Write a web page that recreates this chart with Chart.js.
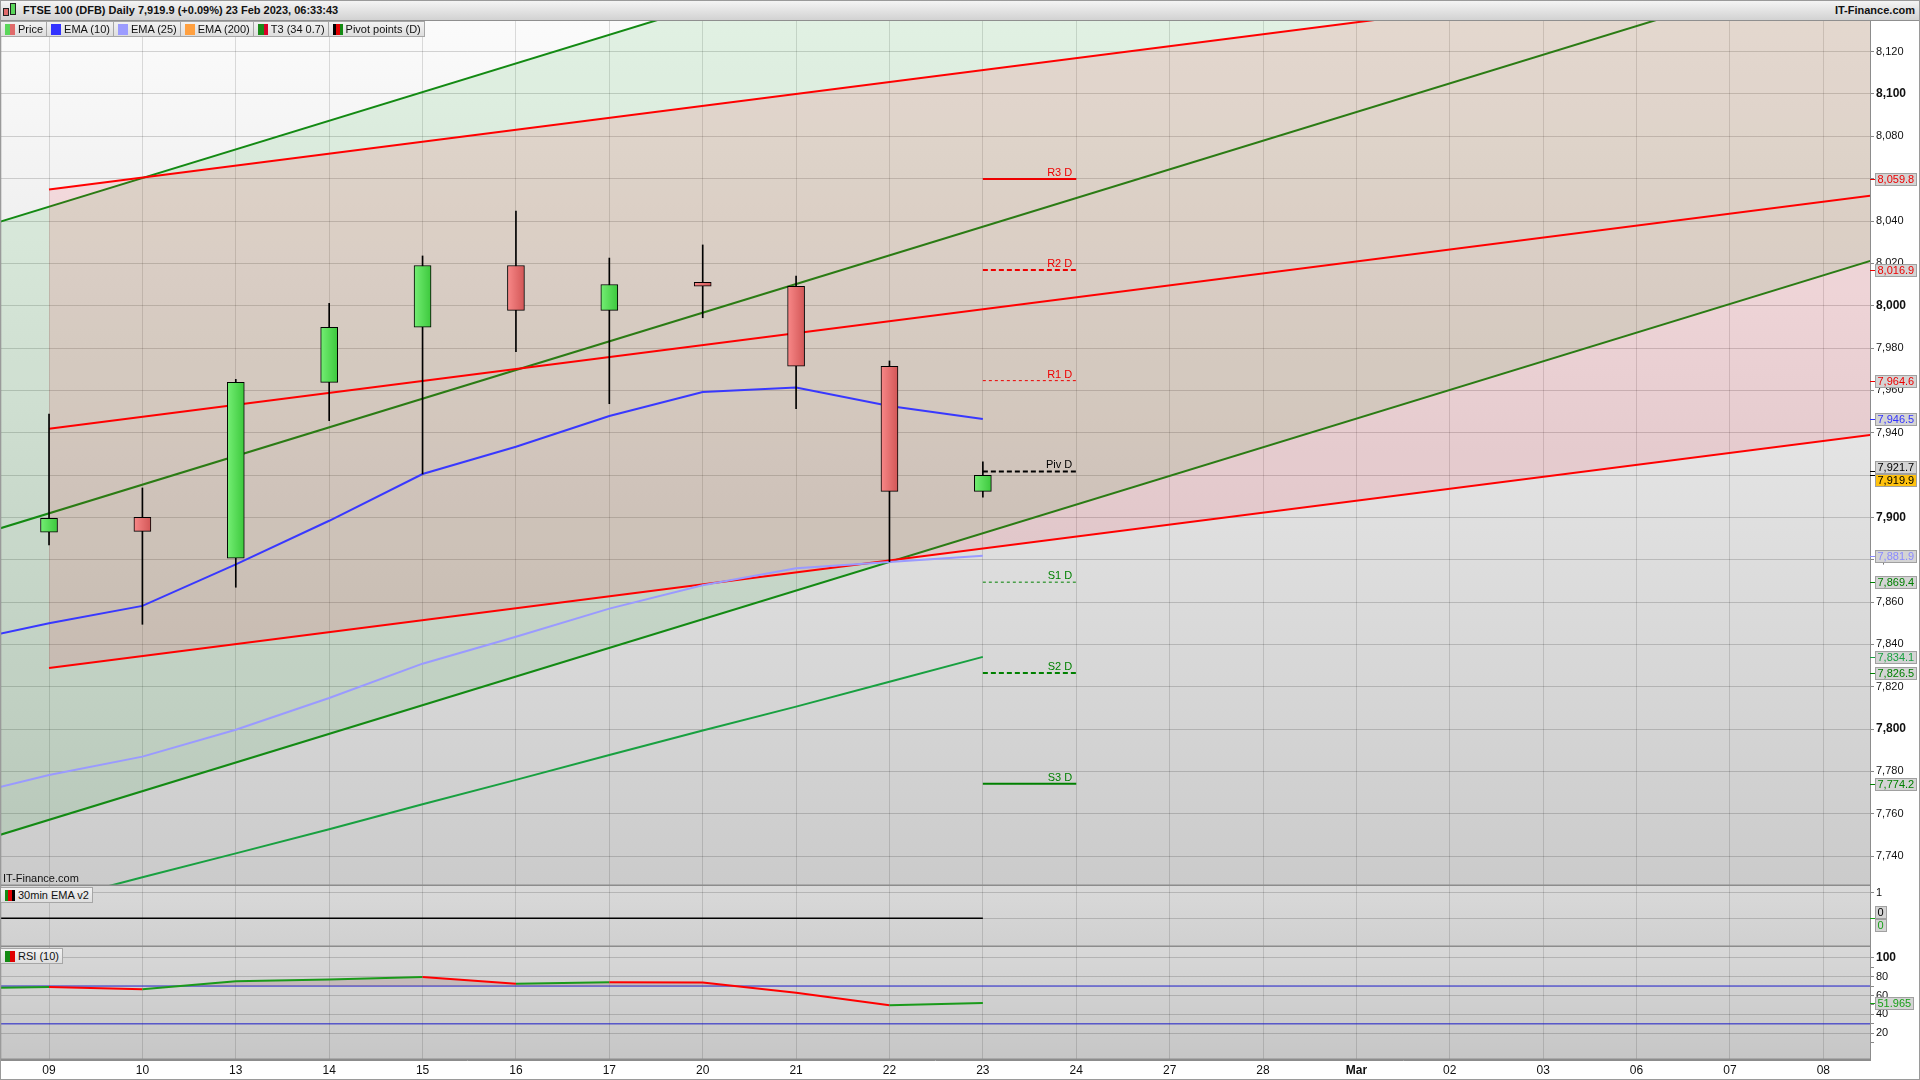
<!DOCTYPE html>
<html>
<head>
<meta charset="utf-8">
<script src="https://cdn.jsdelivr.net/npm/chart.js@4"></script>
<style>
  html, body { margin: 0; padding: 0; background: #fff; width: 1920px; height: 1080px; overflow: hidden; }
  body { font-family: "Liberation Sans", Arial, sans-serif; }
  #wrap { position: relative; width: 1920px; height: 1080px; }
  canvas { position: absolute; left: 0; }
  #title { position: absolute; left: 0; top: 0; width: 1920px; height: 21px; box-sizing: border-box;
    background: linear-gradient(#f6f6f6, #d2d2d2); border-bottom: 1px solid #8f8f8f;
    font: bold 11px "Liberation Sans", Arial, sans-serif; line-height: 21px; color: #111; }
  #title .t { position: absolute; left: 23px; top: 0; }
  #title .r { position: absolute; right: 5px; top: 0; }
  .cnd { position: absolute; border: 1px solid #222; box-sizing: border-box; }
  .legend { position: absolute; left: 0; display: flex; z-index: 5; }
  .lg { height: 16px; box-sizing: border-box; border: 1px solid #a6a6a6; margin-right: -1px;
    background: linear-gradient(#f2f2f2, #dedede); font: 11px "Liberation Sans", Arial, sans-serif;
    color: #111; display: flex; align-items: center; white-space: nowrap; padding: 0 3px 0 4px; }
  .ic { width: 10px; height: 11px; margin-right: 3px; flex: none; }
  #frame { position: absolute; left: 0; top: 0; width: 1920px; height: 1080px; box-sizing: border-box;
    border: 1px solid #9a9a9a; pointer-events: none; z-index: 9; }
</style>
</head>
<body>
<div id="wrap">
  <div id="title">
    <div class="cnd" style="left:3px;top:8px;width:6px;height:8px;background:#e06a6a"></div>
    <div class="cnd" style="left:10px;top:3px;width:6px;height:12px;background:#5bd65b"></div>
    <span class="t">FTSE 100 (DFB) Daily 7,919.9 (+0.09%) 23 Feb 2023, 06:33:43</span>
    <span class="r">IT-Finance.com</span>
  </div>
  <div class="legend" style="top:21px">
    <div class="lg"><span class="ic" style="background:linear-gradient(90deg,#5bd65b 50%,#e06a6a 50%)"></span>Price</div>
    <div class="lg"><span class="ic" style="background:#3333ff"></span>EMA (10)</div>
    <div class="lg"><span class="ic" style="background:#9c9cff"></span>EMA (25)</div>
    <div class="lg"><span class="ic" style="background:#ffa040"></span>EMA (200)</div>
    <div class="lg"><span class="ic" style="background:linear-gradient(90deg,#1a8a1a 55%,#d8002a 55%)"></span>T3 (34 0.7)</div>
    <div class="lg"><span class="ic" style="background:linear-gradient(90deg,#000 33%,#e00000 33%,#e00000 66%,#138a13 66%)"></span>Pivot points (D)</div>
  </div>
  <div class="legend" style="top:887px">
    <div class="lg"><span class="ic" style="background:linear-gradient(90deg,#138a13 33%,#e00000 33%,#e00000 66%,#000 66%)"></span>30min EMA v2</div>
  </div>
  <div class="legend" style="top:948px">
    <div class="lg"><span class="ic" style="background:linear-gradient(90deg,#138a13 50%,#e00000 50%)"></span>RSI (10)</div>
  </div>
  <canvas id="main" width="1920" height="865" style="top:21px"></canvas>
  <canvas id="ema30" width="1920" height="61" style="top:886px"></canvas>
  <canvas id="rsi" width="1920" height="133" style="top:947px"></canvas>
  <div id="frame"></div>
</div>
<script>
// ---------- data ----------
const dates = ['09', '10', '13', '14', '15', '16', '17', '20', '21', '22', '23',
               '24', '27', '28', 'Mar', '02', '03', '06', '07', '08'];

const priceOpen  = [7893.0, 7900.0, 7880.7, 7963.8, 7989.8, 8019.0, 7997.8, 8011.0, 8009.2, 7971.4, 7912.3];
const priceHigh  = [7948.8, 7913.9, 7965.2, 8001.1, 8023.5, 8044.7, 8022.5, 8028.7, 8014.0, 7973.9, 7926.2];
const priceLow   = [7887.0, 7849.5, 7867.0, 7945.7, 7920.5, 7978.3, 7953.7, 7994.3, 7951.4, 7879.0, 7909.5];
const priceClose = [7899.6, 7893.4, 7963.8, 7989.8, 8019.0, 7997.8, 8010.0, 8009.2, 7971.4, 7912.3, 7919.9];

// these start one session before 09 (index -1)
const ema10 = [7840.5, 7850.0, 7858.2, 7877.8, 7898.4, 7920.5, 7933.4, 7947.9, 7959.2, 7961.4, 7952.6, 7946.5];
const ema25 = [7767.6, 7778.3, 7787.0, 7799.7, 7814.7, 7830.9, 7843.6, 7856.9, 7867.9, 7876.0, 7878.9, 7881.9];
const rsi10 = [67.6, 69.0, 66.5, 75.0, 77.0, 79.6, 72.5, 74.0, 73.8, 63.0, 49.6, 51.965];
const ema30min = [0, 0, 0, 0, 0, 0, 0, 0, 0, 0, 0, 0];

// starts at 09 (index 0)
const t3 = [7718.5, 7730.0, 7741.3, 7752.7, 7764.5, 7776.0, 7787.8, 7799.3, 7810.6, 7822.4, 7834.1];

const pivotNames  = ['R3 D', 'R2 D', 'R1 D', 'Piv D', 'S1 D', 'S2 D', 'S3 D'];
const pivotValues = [8059.8, 8016.9, 7964.6, 7921.7, 7869.4, 7826.5, 7774.2];

// trend channels: values at the two ends
const greenChannelX = [-1, 20];
const greenUpper = [8033.2, 8317.5];
const greenMid   = [7888.4, 8172.7];
const greenLower = [7743.6, 8027.9];
const redChannelX = [0, 20];
const redUpper = [8054.9, 8167.7];
const redMid   = [7941.9, 8054.7];
const redLower = [7828.9, 7941.7];

const priceTicks = [7740, 7760, 7780, 7800, 7820, 7840, 7860, 7880, 7900, 7920, 7940, 7960, 7980,
                    8000, 8020, 8040, 8060, 8080, 8100, 8120];
const rsiTicks = [10, 20, 30, 40, 50, 60, 70, 80, 90, 100];
const emaTicks = [0, 1];
const rsiBands = [70, 30];

// ---------- styles ----------
const FONT = '"Liberation Sans", Arial, sans-serif';
const NARROW = '"Liberation Sans Narrow", "Arial Narrow", "Liberation Sans", sans-serif';
const RED = '#ff0000', GREEN = '#138a13', T3GREEN = '#18a040';
const pivotColors = ['#ee0000', '#ee0000', '#ee0000', '#000000', '#008000', '#008000', '#008000'];
const pivotDash = [[], [5, 3], [3, 3], [5, 3], [3, 3], [5, 3], []];
const pivotWidth = [2, 2, 1, 2, 1, 2, 2];

const fmt1 = v => v.toLocaleString('en-US', { minimumFractionDigits: 1, maximumFractionDigits: 1 });
const seq = (start, vals) => vals.map((v, i) => ({ x: start + i, y: v }));
const pair = (xs, vals) => vals.map((v, i) => ({ x: xs[i], y: v }));

// ---------- plugins ----------
function bgPlugin(top, bottom) {
  return {
    id: 'bg',
    beforeDraw(chart) {
      const { ctx, chartArea: a } = chart;
      const g = ctx.createLinearGradient(0, a.top, 0, a.bottom);
      g.addColorStop(0, top);
      g.addColorStop(1, bottom);
      ctx.save();
      ctx.fillStyle = g;
      ctx.fillRect(a.left, a.top, a.right - a.left, a.bottom - a.top);
      ctx.restore();
    },
    afterDraw(chart) {
      const { ctx, chartArea: a } = chart;
      ctx.save();
      ctx.strokeStyle = '#8c8c8c';
      ctx.lineWidth = 1.5;
      ctx.beginPath();
      ctx.moveTo(a.left, a.bottom - 0.75);
      ctx.lineTo(a.right, a.bottom - 0.75);
      ctx.moveTo(0.5, a.top);
      ctx.lineTo(0.5, a.bottom);
      ctx.stroke();
      ctx.restore();
    }
  };
}

// boxed value labels on the right axis
function tagPlugin(tags) {
  return {
    id: 'tags',
    afterDraw(chart) {
      const { ctx, chartArea: a } = chart;
      const y = chart.scales.y;
      const items = tags.map(t => ({ ...t, ty: y.getPixelForValue(t.value) }))
        .map(t => ({ ...t, py: t.ty }))
        .sort((p, q) => p.py - q.py);
      for (let k = 0; k < 4; k++) {
        for (let i = 1; i < items.length; i++) {
          const d = items[i].py - items[i - 1].py;
          if (d < 13) { const m = (13 - d) / 2; items[i - 1].py -= m; items[i].py += m; }
        }
      }
      ctx.save();
      ctx.font = '11px ' + FONT;
      ctx.textBaseline = 'middle';
      items.forEach(t => {
        ctx.strokeStyle = t.color;
        ctx.lineWidth = 1;
        ctx.beginPath();
        ctx.moveTo(a.right, Math.round(t.ty) + 0.5);
        ctx.lineTo(a.right + 5, Math.round(t.ty) + 0.5);
        ctx.stroke();
        const bx = a.right + 5.5, by = Math.round(t.py - 6) + 0.5;
        const w = Math.ceil(ctx.measureText(t.text).width) + 4;
        ctx.fillStyle = t.bg || '#d4d4d4';
        ctx.fillRect(bx, by, w, 12);
        ctx.strokeStyle = '#a0a0a0';
        ctx.strokeRect(bx, by, w, 12);
        ctx.fillStyle = t.color;
        ctx.fillText(t.text, bx + 2, by + 6.5);
      });
      ctx.restore();
    }
  };
}

const pivotLabelPlugin = {
  id: 'pivotLabels',
  afterDatasetsDraw(chart) {
    const { ctx, chartArea: a } = chart;
    const x = chart.scales.x, y = chart.scales.y;
    ctx.save();
    ctx.font = '11px ' + FONT;
    ctx.textAlign = 'right';
    ctx.textBaseline = 'alphabetic';
    pivotValues.forEach((v, i) => {
      ctx.fillStyle = pivotColors[i];
      ctx.fillText(pivotNames[i], x.getPixelForValue(11) - 4, y.getPixelForValue(v) - 3);
    });
    ctx.textAlign = 'left';
    ctx.fillStyle = '#111';
    ctx.font = '11px ' + NARROW;
    ctx.fillText('IT-Finance.com', 3, a.bottom - 4);
    ctx.restore();
  }
};

// ---------- shared axis builders ----------
function xAxis(height, showLabels) {
  return {
    type: 'linear', min: -0.525, max: 19.5, offset: false,
    afterBuildTicks: s => { s.ticks = dates.map((d, i) => ({ value: i })); },
    afterFit: s => { s.height = height; s.paddingLeft = 0; s.paddingRight = 0; },
    grid: { color: 'rgba(0,0,0,0.13)', drawTicks: false, offset: false },
    border: { display: showLabels, color: '#8c8c8c' },
    ticks: {
      display: showLabels, autoSkip: false, maxRotation: 0, padding: 3, color: '#111',
      callback: v => dates[v] ?? '',
      font: c => ({ family: NARROW, size: 12, weight: c.tick && dates[c.tick.value] === 'Mar' ? 'bold' : 'normal' })
    }
  };
}

function yAxis(min, max, ticks, label, isBold, gridOn) {
  return {
    type: 'linear', position: 'right', min, max,
    afterBuildTicks: s => { s.ticks = ticks.map(v => ({ value: v })); },
    afterFit: s => { s.width = 50; s.paddingTop = 0; s.paddingBottom = 0; },
    grid: {
      color: c => (c.tick && gridOn(c.tick.value) ? 'rgba(0,0,0,0.16)' : 'rgba(0,0,0,0)'),
      drawTicks: true, tickLength: 4, tickColor: '#888'
    },
    border: { color: '#8c8c8c' },
    ticks: {
      padding: 2, color: '#111', callback: label, autoSkip: false,
      font: c => (c.tick && isBold(c.tick.value)
        ? { family: FONT, size: 12, weight: 'bold' }
        : { family: FONT, size: 11, weight: 'normal' })
    }
  };
}

const baseOptions = {
  responsive: false, animation: false, devicePixelRatio: 1, events: [],
  layout: { padding: 0 },
  plugins: { legend: { display: false }, tooltip: { enabled: false } }
};

// ---------- main price chart ----------
function bodyColor(c) {
  if (!c.raw || !c.raw.y) return '#55d855';
  const up = c.raw.y[1] >= c.raw.y[0];
  const solid = up ? '#55d855' : '#e06a6a';
  const xs = c.chart.scales.x;
  if (!xs) return solid;
  const px = xs.getPixelForValue(c.raw.x);
  if (!Number.isFinite(px)) return solid;
  const g = c.chart.ctx.createLinearGradient(px - 8.5, 0, px + 8.5, 0);
  g.addColorStop(0, up ? '#74ee74' : '#f88888');
  g.addColorStop(1, up ? '#3cc83c' : '#d25656');
  return g;
}

const line = (label, data, color, width, order, extra) => Object.assign({
  type: 'line', label, data, borderColor: color, borderWidth: width,
  pointRadius: 0, tension: 0, fill: false, order
}, extra || {});

const mainDatasets = [
  line('greenUpper', pair(greenChannelX, greenUpper), GREEN, 2, 30,
    { fill: { target: 2 }, backgroundColor: 'rgba(40,170,60,0.12)' }),
  line('greenMid', pair(greenChannelX, greenMid), GREEN, 2, 29),
  line('greenLower', pair(greenChannelX, greenLower), GREEN, 2, 28),
  line('redUpper', pair(redChannelX, redUpper), RED, 2, 27,
    { fill: { target: 5 }, backgroundColor: 'rgba(255,0,30,0.10)' }),
  line('redMid', pair(redChannelX, redMid), RED, 2, 26),
  line('redLower', pair(redChannelX, redLower), RED, 2, 25),
  line('T3 (34 0.7)', seq(0, t3), T3GREEN, 2, 20),
  line('EMA (25)', seq(-1, ema25), '#9a9aff', 2, 19),
  line('EMA (10)', seq(-1, ema10), '#3838ff', 2, 18),
  ...pivotValues.map((v, i) => line(pivotNames[i], [{ x: 10, y: v }, { x: 11, y: v }],
    pivotColors[i], pivotWidth[i], 10, { borderDash: pivotDash[i] })),
  {
    type: 'bar', label: 'wick', grouped: false, order: 2,
    data: priceLow.map((l, i) => ({ x: i, y: [l, priceHigh[i]] })),
    backgroundColor: '#000', barThickness: 1, borderWidth: 0
  },
  {
    type: 'bar', label: 'Price', grouped: false, order: 1,
    data: priceOpen.map((o, i) => ({ x: i, y: [o, priceClose[i]] })),
    backgroundColor: bodyColor, borderColor: '#000', borderWidth: 1,
    borderSkipped: false, barThickness: 17
  }
];

const priceTags = [
  ...pivotValues.map((v, i) => ({ value: v, text: fmt1(v), color: i === 3 ? '#000' : pivotColors[i] })),
  { value: ema10[ema10.length - 1], text: fmt1(ema10[ema10.length - 1]), color: '#3333ff' },
  { value: priceClose[priceClose.length - 1], text: fmt1(priceClose[priceClose.length - 1]), color: '#000', bg: '#ffc20e' },
  { value: ema25[ema25.length - 1], text: fmt1(ema25[ema25.length - 1]), color: '#8a8aff' },
  { value: t3[t3.length - 1], text: fmt1(t3[t3.length - 1]), color: T3GREEN }
];

new Chart(document.getElementById('main'), {
  type: 'line',
  data: { datasets: mainDatasets },
  options: Object.assign({}, baseOptions, {
    scales: {
      x: xAxis(0, false),
      y: yAxis(7725.88, 8134.48, priceTicks, v => v.toLocaleString('en-US'),
        v => v % 100 === 0, () => true)
    }
  }),
  plugins: [bgPlugin('#fbfbfb', '#cbcbcb'), pivotLabelPlugin, tagPlugin(priceTags)]
});

// ---------- 30min EMA v2 panel ----------
new Chart(document.getElementById('ema30'), {
  type: 'line',
  data: { datasets: [line('30min EMA v2', seq(-1, ema30min), '#000', 1.5, 1)] },
  options: Object.assign({}, baseOptions, {
    scales: {
      x: xAxis(0, false),
      y: yAxis(-1.121, 1.262, emaTicks, v => (v === 1 ? '1' : ''), () => false, () => true)
    }
  }),
  plugins: [bgPlugin('#d9d9d9', '#d0d0d0'), tagPlugin([
    { value: 0, text: '0', color: '#000' },
    { value: ema30min[ema30min.length - 1], text: '0', color: '#18a018' }
  ])]
});

// ---------- RSI panel ----------
new Chart(document.getElementById('rsi'), {
  type: 'line',
  data: {
    datasets: [
      line('RSI (10)', seq(-1, rsi10), '#ff0000', 2, 1, {
        segment: { borderColor: c => (c.p1.parsed.y >= c.p0.parsed.y ? '#1a9a1a' : '#ff0000') },
        fill: { target: { value: rsiBands[0] }, above: 'rgba(150,100,100,0.22)', below: 'rgba(0,0,0,0)' }
      }),
      ...rsiBands.map(b => line('band ' + b, [{ x: -1, y: b }, { x: 21, y: b }], '#1c1cc8', 1, 5))
    ]
  },
  options: Object.assign({}, baseOptions, {
    scales: {
      x: xAxis(20, true),
      y: yAxis(-8.25, 111.3, rsiTicks, v => (v % 20 === 0 ? String(v) : ''),
        v => v === 100, v => v % 20 === 0)
    }
  }),
  plugins: [bgPlugin('#d8d8d8', '#c6c6c6'), tagPlugin([
    { value: rsi10[rsi10.length - 1], text: rsi10[rsi10.length - 1].toFixed(3), color: '#18a018' }
  ])]
});
</script>
</body>
</html>
